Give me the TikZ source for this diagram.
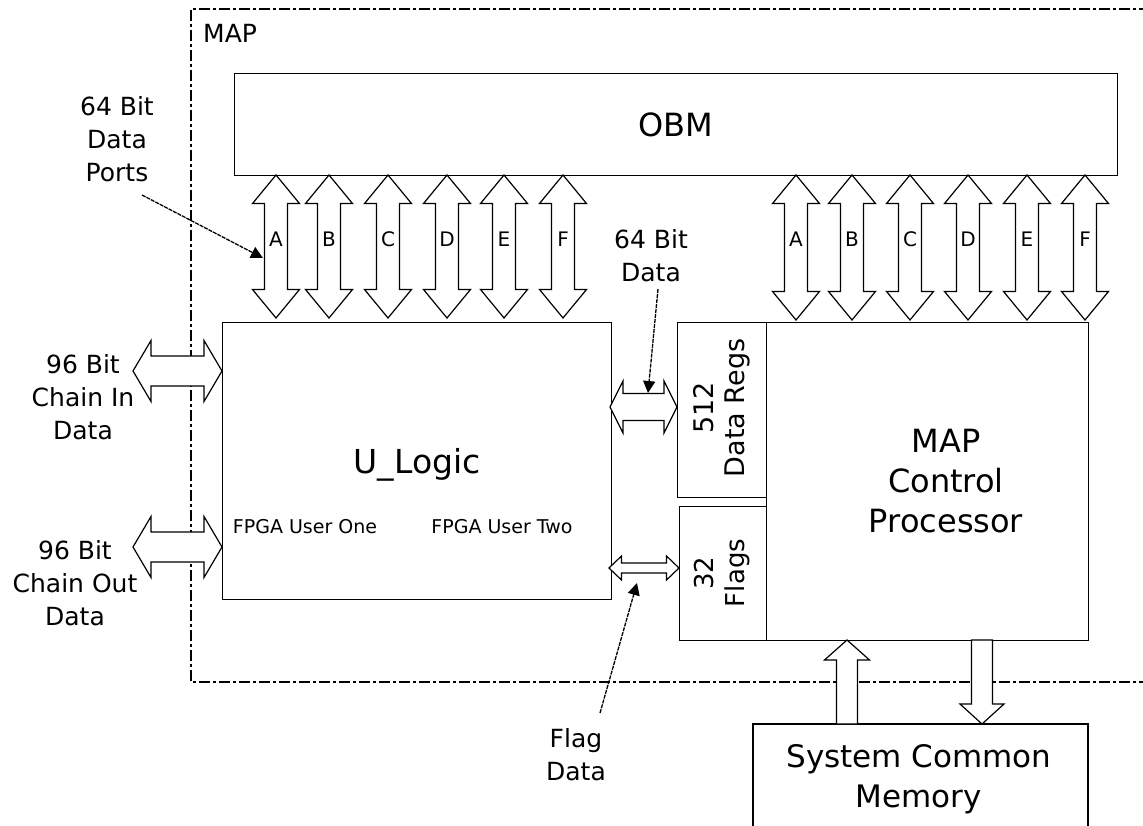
\documentclass[tikz,border=0pt]{standalone}
\usepackage{fontspec}
\setmainfont{DejaVu Sans}
\usetikzlibrary{arrows.meta}
% vertical double block arrow: x, top y, bottom y, shaft half-width, head half-width, head length
\newcommand\vdarr[6]{%
  \draw[blockarrow] (#1,#2) -- ({#1+#5},{#2+#6}) -- ({#1+#4},{#2+#6}) -- ({#1+#4},{#3-#6}) -- ({#1+#5},{#3-#6}) -- (#1,#3)
    -- ({#1-#5},{#3-#6}) -- ({#1-#4},{#3-#6}) -- ({#1-#4},{#2+#6}) -- ({#1-#5},{#2+#6}) -- cycle;}
% horizontal double block arrow: y, left x, right x, shaft half-width, head half-width, head length
\newcommand\hdarr[6]{%
  \draw[blockarrow] (#2,#1) -- ({#2+#6},{#1-#5}) -- ({#2+#6},{#1-#4}) -- ({#3-#6},{#1-#4}) -- ({#3-#6},{#1-#5}) -- (#3,#1)
    -- ({#3-#6},{#1+#5}) -- ({#3-#6},{#1+#4}) -- ({#2+#6},{#1+#4}) -- ({#2+#6},{#1+#5}) -- cycle;}
% single up arrow: x, tip y, base y, shaft half, head half, head length
\newcommand\uarr[6]{%
  \draw[blockarrow] (#1,#2) -- ({#1+#5},{#2+#6}) -- ({#1+#4},{#2+#6}) -- ({#1+#4},#3) -- ({#1-#4},#3) -- ({#1-#4},{#2+#6}) -- ({#1-#5},{#2+#6}) -- cycle;}
% single down arrow: x, base y, tip y, shaft half, head half, head length
\newcommand\darr[6]{%
  \draw[blockarrow] ({#1-#4},#2) -- ({#1+#4},#2) -- ({#1+#4},{#3-#6}) -- ({#1+#5},{#3-#6}) -- (#1,#3) -- ({#1-#5},{#3-#6}) -- ({#1-#4},{#3-#6}) -- cycle;}
\begin{document}
\begin{tikzpicture}[x=1pt,y=-1pt,
  box/.style={draw,line width=1.3pt,inner sep=0pt,anchor=north west},
  blockarrow/.style={draw,fill=white,line width=1.2pt,line join=miter},
  mapframe/.style={line width=2pt,dash pattern=on 11pt off 3pt on 3pt off 3pt},
  pointer/.style={line width=1.3pt,dash pattern=on 4pt off 1pt,-{Triangle[length=12pt,width=12pt]}},
  lbl/.style={align=center,inner sep=0pt},
  big/.style={font=\fontsize{32}{40}\selectfont},
  mid/.style={font=\fontsize{25}{33}\selectfont},
  small/.style={font=\fontsize{19}{23}\selectfont},
  portlbl/.style={inner sep=0pt,anchor=base,font=\fontsize{20}{23}\selectfont}]
\useasboundingbox (0,0) rectangle (1143,826);
\clip (0,0) rectangle (1143,826);
% MAP frame
\draw[mapframe] (1150,9) -- (191,9) -- (191,682) -- (1150,682);
\node[inner sep=0pt,anchor=base west,font=\fontsize{25}{30}\selectfont] (maplbl) at (203,43) {MAP};
% boxes
\node[box,minimum width=883pt,minimum height=102pt,big] (obm) at (234,73) {OBM};
\node[box,minimum width=389pt,minimum height=277pt] (ulogic) at (222,322) {};
\node[box,minimum width=89pt,minimum height=175pt] (dregs) at (677,322) {};
\node[box,minimum width=87pt,minimum height=134pt] (flags) at (679,506) {};
\node[box,minimum width=322pt,minimum height=318pt] (mcp) at (766,322) {};
\draw[line width=1.3pt] (753,840) -- (753,724) -- (1088,724) -- (1088,840);
% box texts
\node[inner sep=0pt,anchor=base,font=\fontsize{33}{40}\selectfont] (ulogictxt) at (417,473) {U\_Logic};
\node[inner sep=0pt,anchor=base,small] (fpga1) at (305,533) {FPGA User One};
\node[inner sep=0pt,anchor=base,small] (fpga2) at (502,533) {FPGA User Two};
\node[lbl,big] (mcptxt) at (946,481) {MAP\\Control\\Processor};
\node[lbl,rotate=90,font=\fontsize{27}{31}\selectfont] (dregstxt) at (721.5,408) {512\\Data Regs};
\node[lbl,rotate=90,font=\fontsize{26}{31}\selectfont] (flagstxt) at (722.5,573) {32\\Flags};
\node[lbl,font=\fontsize{31}{40}\selectfont] (scmtxt) at (919,779) {System Common\\Memory};
% data port arrows (left group)
\foreach \x/\l in {276/A,329/B,388/C,447/D,504/E,563/F}{
  \vdarr{\x}{175}{318}{11.5}{23.5}{28.5}
  \node[portlbl] at (\x,247) {\l};
}
% data port arrows (right group)
\foreach \x/\l in {796/A,852/B,910/C,968/D,1027/E,1085/F}{
  \vdarr{\x}{175}{320}{11.5}{23.5}{28.5}
  \node[portlbl] at (\x,247) {\l};
}
% chain arrows
\hdarr{371}{133}{222}{15}{30.5}{18}
\hdarr{547}{133}{222}{15}{30.5}{18}
% data / flags arrows
\hdarr{407}{610}{677}{13.5}{26}{13}
\hdarr{568}{609}{679}{5}{12}{12.5}
% system common memory arrows
\uarr{847}{640}{724}{10.5}{22.5}{20}
\darr{982}{640}{724}{10.5}{22}{20}
% outside labels
\node[lbl,mid] (portslbl) at (117,139) {64 Bit\\Data\\Ports};
\node[lbl,mid] (chinlbl) at (83,397) {96 Bit\\Chain In\\Data};
\node[lbl,mid] (choutlbl) at (75,583) {96 Bit\\Chain Out\\Data};
\node[lbl,mid] (datalbl) at (651,256) {64 Bit\\Data};
\node[lbl,mid] (flaglbl) at (576,755) {Flag\\Data};
% pointers
\coordinate (p1s) at (142,195); \coordinate (p1e) at (263,258);
\coordinate (p2s) at (658,289); \coordinate (p2e) at (648,393);
\coordinate (p3s) at (600,713); \coordinate (p3e) at (637,583);
\draw[pointer] (p1s) -- (p1e);
\draw[pointer] (p2s) -- (p2e);
\draw[pointer] (p3s) -- (p3e);
\end{tikzpicture}
\end{document}
